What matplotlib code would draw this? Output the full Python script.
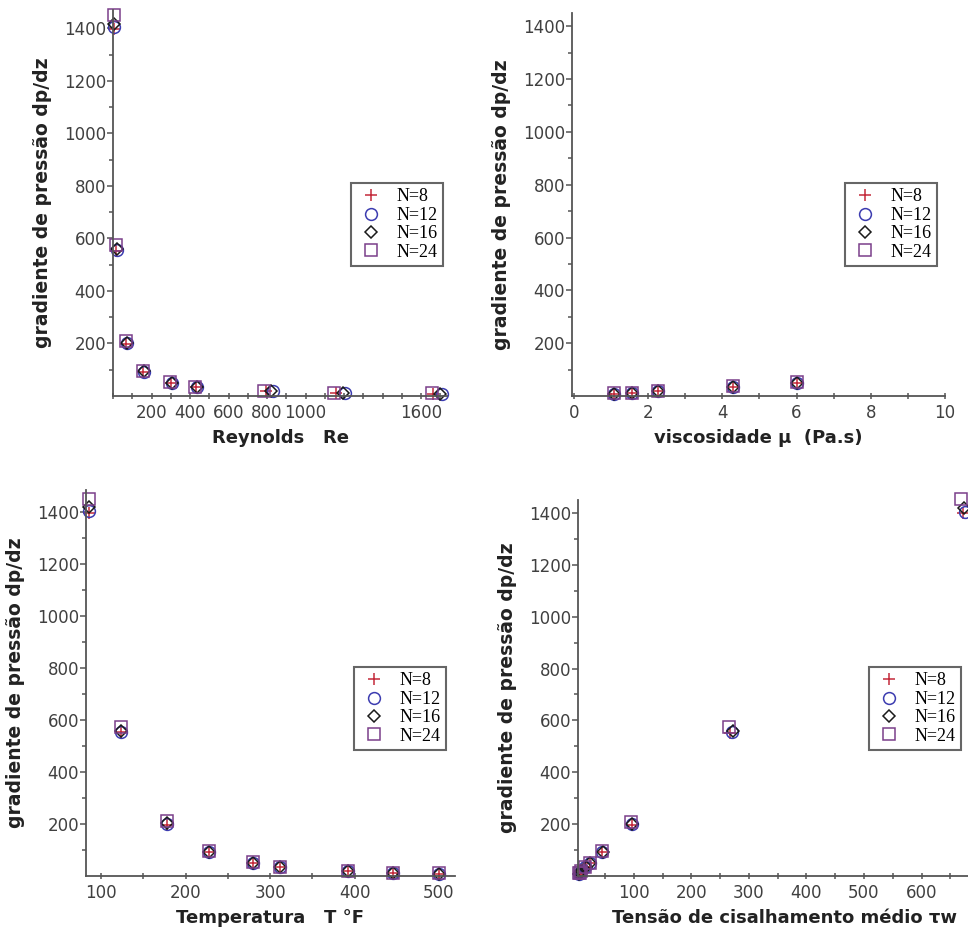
import matplotlib
matplotlib.use("Agg")
import matplotlib.pyplot as plt
from matplotlib.ticker import MultipleLocator, FixedLocator, FixedFormatter

# dados
series = ["N=8", "N=12", "N=16", "N=24"]

# gradiente de pressao dp/dz (mesma ordem da temperatura)
dpdz = {
    "N=8": [1398, 553, 198, 93, 49, 34, 18, 12, 9],
    "N=12": [1405, 555, 200, 93, 49, 34, 18, 12, 9],
    "N=16": [1418, 558, 202, 94, 50, 35, 18, 12, 9],
    "N=24": [1452, 575, 210, 97, 52, 36, 19, 13, 10],
}

temperatura = [85, 124, 178, 228, 280, 312, 392, 445, 500]

reynolds = {
    "N=8": [4, 18, 70, 156, 300, 430, 795, 1160, 1662],
    "N=12": [5, 19, 73, 160, 306, 438, 830, 1205, 1708],
    "N=16": [5, 19, 72, 159, 304, 436, 822, 1195, 1700],
    "N=24": [3, 17, 69, 154, 298, 425, 785, 1150, 1655],
}

tensao = {
    "N=8": [672, 268, 96, 45, 24, 16, 9, 6, 4],
    "N=12": [676, 270, 97, 45, 24, 16, 9, 6, 4],
    "N=16": [674, 272, 97, 46, 24, 17, 9, 6, 4],
    "N=24": [668, 265, 95, 44, 23, 16, 8, 6, 4],
}

# viscosidade visivel (pontos 5..9 da temperatura)
viscosidade = [6.0, 4.3, 2.27, 1.57, 1.08]

estilos = {
    "N=8": dict(marker="+", color="#c42a3a", mfc="none", ms=9, mew=1.1),
    "N=12": dict(marker="o", color="#3c3cb0", mfc="none", ms=8.5, mew=1.1),
    "N=16": dict(marker="D", color="#1a1a1a", mfc="none", ms=6.5, mew=1.1),
    "N=24": dict(marker="s", color="#7a3f8a", mfc="none", ms=9, mew=1.1),
}

W, H = 968, 930
fig = plt.figure(figsize=(W / 100, H / 100), dpi=100)


def eixo(l, r, b, t):
    return fig.add_axes([l / W, (H - b) / H, (r - l) / W, (b - t) / H])


def estilo(ax, xlabel, legx, legy):
    for s in ["top", "right"]:
        ax.spines[s].set_visible(False)
    for s in ["left", "bottom"]:
        ax.spines[s].set_color("#555555")
        ax.spines[s].set_linewidth(1.3)
    ax.tick_params(axis="both", which="both", colors="#555555", labelcolor="#404040",
                   labelsize=12, width=1.1)
    ax.tick_params(axis="y", which="major", length=4, pad=1)
    ax.tick_params(axis="y", which="minor", length=3)
    ax.tick_params(axis="x", which="major", length=5, direction="inout", pad=3)
    ax.tick_params(axis="x", which="minor", length=5, direction="inout")
    ax.yaxis.set_major_locator(FixedLocator([200, 400, 600, 800, 1000, 1200, 1400]))
    ax.yaxis.set_minor_locator(FixedLocator([100, 300, 500, 700, 900, 1100, 1300]))
    ax.set_ylabel("gradiente de pressão dp/dz", fontsize=13.5, fontweight="bold", color="#222222")
    ax.yaxis.set_label_coords(-61 / (ax.get_position().width * W), 0.5)
    ax.set_xlabel(xlabel, fontsize=13, fontweight="bold", color="#222222", labelpad=5)
    leg = ax.legend(loc="upper left", bbox_to_anchor=(legx / W, 1 - legy / H),
                    bbox_transform=fig.transFigure, prop={"family": "Liberation Serif", "size": 13},
                    frameon=True, fancybox=False, framealpha=1, edgecolor="#666666",
                    handlelength=1.6, handletextpad=0.6, labelspacing=0.08,
                    borderpad=0.3, borderaxespad=0)
    leg.get_frame().set_linewidth(1.5)


# Reynolds
ax1 = eixo(113, 447, 396, 10)
for n in series:
    ax1.plot(reynolds[n], dpdz[n], ls="none", label=n, **estilos[n])
ax1.set_xlim(0, 1735)
ax1.set_ylim(0, 1470)
ax1.xaxis.set_major_locator(FixedLocator([200, 400, 600, 800, 1000, 1200, 1400, 1600]))
ax1.xaxis.set_major_formatter(FixedFormatter(["200", "400", "600", "800", "1000", "", "", "1600"]))
ax1.xaxis.set_minor_locator(MultipleLocator(100))
estilo(ax1, "Reynolds   Re", 351, 183)

# viscosidade
ax2 = eixo(572, 945, 396, 13)
for n in series:
    ax2.plot(viscosidade, dpdz[n][4:], ls="none", label=n, **estilos[n])
ax2.set_xlim(-0.05, 10)
ax2.set_ylim(0, 1450)
ax2.xaxis.set_major_locator(MultipleLocator(2))
ax2.xaxis.set_minor_locator(MultipleLocator(1))
estilo(ax2, "viscosidade μ  (Pa.s)", 845, 183)

# temperatura
ax3 = eixo(86, 455, 876, 490)
for n in series:
    ax3.plot(temperatura, dpdz[n], ls="none", label=n, **estilos[n])
ax3.set_xlim(82, 519)
ax3.set_ylim(0, 1485)
ax3.xaxis.set_major_locator(MultipleLocator(100))
ax3.xaxis.set_minor_locator(MultipleLocator(50))
estilo(ax3, "Temperatura   T °F", 354, 667)

# tensao de cisalhamento
ax4 = eixo(578, 990, 876, 500)
for n in series:
    ax4.plot(tensao[n], dpdz[n], ls="none", label=n, **estilos[n])
ax4.set_xlim(3, 719)
ax4.set_ylim(0, 1450)
ax4.xaxis.set_major_locator(FixedLocator([100, 200, 300, 400, 500, 600, 700]))
ax4.xaxis.set_major_formatter(FixedFormatter(["100", "200", "300", "400", "500", "600", ""]))
ax4.xaxis.set_minor_locator(FixedLocator([50, 150, 250, 350, 450, 550, 650]))
estilo(ax4, "Tensão de cisalhamento médio τw", 869, 667)

for ax in [ax1, ax2, ax3, ax4]:
    for line in ax.lines:
        line.set_clip_on(False)

fig.savefig("out.png", dpi=100)
